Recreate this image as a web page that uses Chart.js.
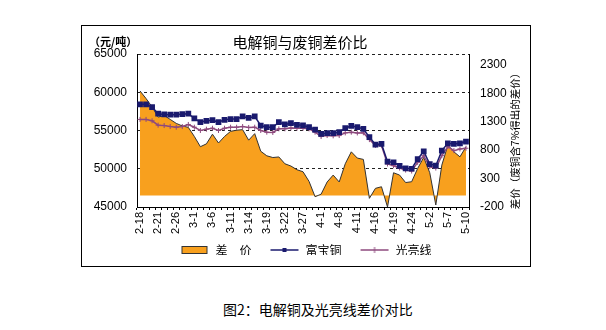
<!DOCTYPE html>
<html>
<head>
<meta charset="utf-8">
<script src="https://cdn.jsdelivr.net/npm/chart.js@4/dist/chart.umd.min.js"></script>
<style>
body{margin:0;background:#fff;width:606px;height:330px;position:relative;overflow:hidden;font-family:"Noto Sans CJK SC",sans-serif}
#wrap{position:absolute;left:81px;top:25px;width:449px;height:241px}
#frame{position:absolute;left:81px;top:25px;width:448px;height:240px;border:1px solid #000;pointer-events:none}
#caption{position:absolute;left:223px;top:299px;font-size:14px;color:#000;white-space:nowrap}
</style>
</head>
<body>
<div id="wrap"><canvas id="c" width="449" height="241"></canvas></div>
<div id="frame"></div>
<div id="caption">图2：电解铜及光亮线差价对比</div>
<script>
// 2013 trading days, 2-18 .. 5-10
const dates = ['2-18','2-19','2-20','2-21','2-22','2-25','2-26','2-27','2-28',
  '3-1','3-4','3-5','3-6','3-7','3-8','3-11','3-12','3-13','3-14','3-15','3-18','3-19','3-20','3-21','3-22','3-25','3-26','3-27','3-28','3-29',
  '4-1','4-2','4-3','4-8','4-9','4-10','4-11','4-12','4-15','4-16','4-17','4-18','4-19','4-22','4-23','4-24','4-25','4-26',
  '5-2','5-3','5-6','5-7','5-8','5-9','5-10'];

// 差价 (right axis)
const spread = [1840,1707,1560,1380,1410,1340,1270,1225,1200,1040,
  860,910,1080,925,1040,1130,1150,1160,975,1090,
  780,700,670,680,560,520,455,420,250,-19,
  25,240,361,240,560,770,660,637,-48,128,
  156,-200,402,361,230,244,479,672,402,-165,
  537,887,770,682,858];

// 富宝铜 (left axis)
const fubao = [58420,58420,58060,57200,57100,57060,57060,57150,57200,56600,
  56100,56270,56350,56100,56400,56500,56500,56840,56650,56840,
  55650,55430,55430,56100,55800,55950,55750,55670,55430,55100,
  54560,54650,54650,54780,55300,55620,55430,55220,54120,53160,
  53250,50920,50850,50390,50050,50000,51270,52270,50620,50400,
  52370,53330,53250,53330,53550];

// 光亮线 (left axis)
const brightWire = [56450,56450,56270,55700,55650,55520,55430,55520,55790,55430,
  55000,55170,55300,55000,55300,55430,55430,55520,55400,55430,
  55000,54780,54740,55220,55220,55340,55300,55300,55220,54780,
  54210,54340,54300,54340,54690,54780,54680,54700,53810,53050,
  53050,50620,50400,50090,49830,49700,50830,51710,50260,50090,
  51710,52900,52370,52590,52680];

const leftTicks = [45000, 50000, 55000, 60000, 65000];
const rightTicks = [-200, 300, 800, 1300, 1800, 2300];

const ORANGE = '#F8A01E';
const NAVY = '#1a1a6e';
const PLUM = '#8e4a7e';
const CJK = '"Noto Sans CJK SC", sans-serif';
const NUM = '"Liberation Sans", Arial, sans-serif';

function icon(kind, color){
  const c = document.createElement('canvas');
  c.width = 30; c.height = 10;
  const g = c.getContext('2d');
  if (kind === 'box') {
    g.fillStyle = color; g.fillRect(2.5, 1.5, 25, 7);
    g.strokeStyle = '#333'; g.lineWidth = 1; g.strokeRect(2.5, 1.5, 25, 7);
  } else {
    g.strokeStyle = color; g.lineWidth = 1.5;
    g.beginPath(); g.moveTo(1, 5); g.lineTo(29, 5); g.stroke();
    if (kind === 'rect') { g.fillStyle = color; g.fillRect(13, 3, 4, 4); }
    else { g.lineWidth = 1; g.beginPath(); g.moveTo(15, 2); g.lineTo(15, 8); g.stroke(); }
  }
  return c;
}

const texts = {
  id: 'texts',
  afterLayout(chart){
    // pull the legend row up under the rotated date labels
    chart.legend.top -= 11;
    chart.legend.bottom -= 11;
  },
  afterDraw(chart){
    const {ctx, chartArea: a} = chart;
    ctx.save();
    ctx.fillStyle = '#000';
    ctx.textBaseline = 'middle';
    ctx.textAlign = 'center';
    ctx.font = '15px ' + CJK;
    ctx.fillText('电解铜与废铜差价比', (a.left + a.right) / 2 - 3, 17);
    ctx.textAlign = 'left';
    ctx.font = 'bold 11px ' + CJK;
    ctx.fillText('（元/吨）', 8, 17);
    ctx.translate(a.right + 46, (a.top + a.bottom) / 2 + 8);
    ctx.rotate(-Math.PI / 2);
    ctx.textAlign = 'center';
    ctx.font = '10.5px ' + CJK;
    ctx.fillText('差价（废铜含7%得出的差价）', 0, 0);
    ctx.restore();
  }
};

new Chart(document.getElementById('c'), {
  type: 'line',
  data: {
    labels: dates,
    datasets: [
      { label: '差　价', data: spread, yAxisID: 'y1', order: 3,
        fill: 'origin', backgroundColor: ORANGE, borderColor: '#333', borderWidth: 1,
        pointRadius: 0, tension: 0 },
      { label: '富宝铜', data: fubao, yAxisID: 'y', order: 1,
        borderColor: NAVY, borderWidth: 1.5, pointStyle: 'rect', pointRadius: 3,
        pointBackgroundColor: NAVY, pointBorderColor: NAVY, fill: false, tension: 0 },
      { label: '光亮线', data: brightWire, yAxisID: 'y', order: 2,
        borderColor: PLUM, borderWidth: 1.5, pointStyle: 'cross', pointRadius: 2.5,
        pointBorderColor: PLUM, pointBorderWidth: 1, fill: false, tension: 0 }
    ]
  },
  options: {
    responsive: false,
    animation: false,
    layout: { padding: { top: 29, left: 0, right: 0, bottom: 0 } },
    plugins: {
      title: { display: false },
      tooltip: { enabled: false },
      legend: {
        position: 'bottom',
        maxHeight: 29,
        labels: {
          usePointStyle: true,
          pointStyleWidth: 30,
          padding: 18,
          color: '#000',
          font: { size: 12, family: CJK },
          generateLabels: () => [
            { text: '差　价', pointStyle: icon('box', ORANGE), datasetIndex: 0, lineWidth: 0, fontColor: '#000' },
            { text: '富宝铜', pointStyle: icon('rect', NAVY), datasetIndex: 1, lineWidth: 0, fontColor: '#000' },
            { text: '光亮线', pointStyle: icon('cross', PLUM), datasetIndex: 2, lineWidth: 0, fontColor: '#000' }
          ]
        }
      }
    },
    scales: {
      x: {
        offset: true,
        grid: { drawOnChartArea: false, drawTicks: true, tickLength: 3, color: '#000', offset: true },
        border: { display: true, color: '#000' },
        ticks: {
          autoSkip: false, minRotation: 90, maxRotation: 90, padding: 2,
          color: '#000', font: { size: 11, family: NUM },
          callback: (v, i) => (i % 3 === 0 ? dates[i] : '')
        },
        afterFit: s => { s.height = 30; }
      },
      y: {
        position: 'left',
        min: leftTicks[0], max: leftTicks[leftTicks.length - 1],
        afterBuildTicks: s => { s.ticks = leftTicks.map(v => ({ value: v })); },
        grid: { color: '#222', lineWidth: 1, drawTicks: false },
        border: { display: true, color: '#000', dash: [3, 3] },
        ticks: { padding: 10, color: '#000', font: { size: 12, family: NUM }, callback: v => String(v) },
        afterFit: s => { s.width = 56; }
      },
      y1: {
        position: 'right',
        min: -200, max: 2490,
        afterBuildTicks: s => { s.ticks = rightTicks.map(v => ({ value: v })); },
        grid: { drawOnChartArea: false, drawTicks: false },
        border: { display: true, color: '#000' },
        ticks: { padding: 11, color: '#000', font: { size: 12, family: NUM }, callback: v => String(v) },
        afterFit: s => { s.width = 61; }
      }
    }
  },
  plugins: [texts]
});
</script>
</body>
</html>
